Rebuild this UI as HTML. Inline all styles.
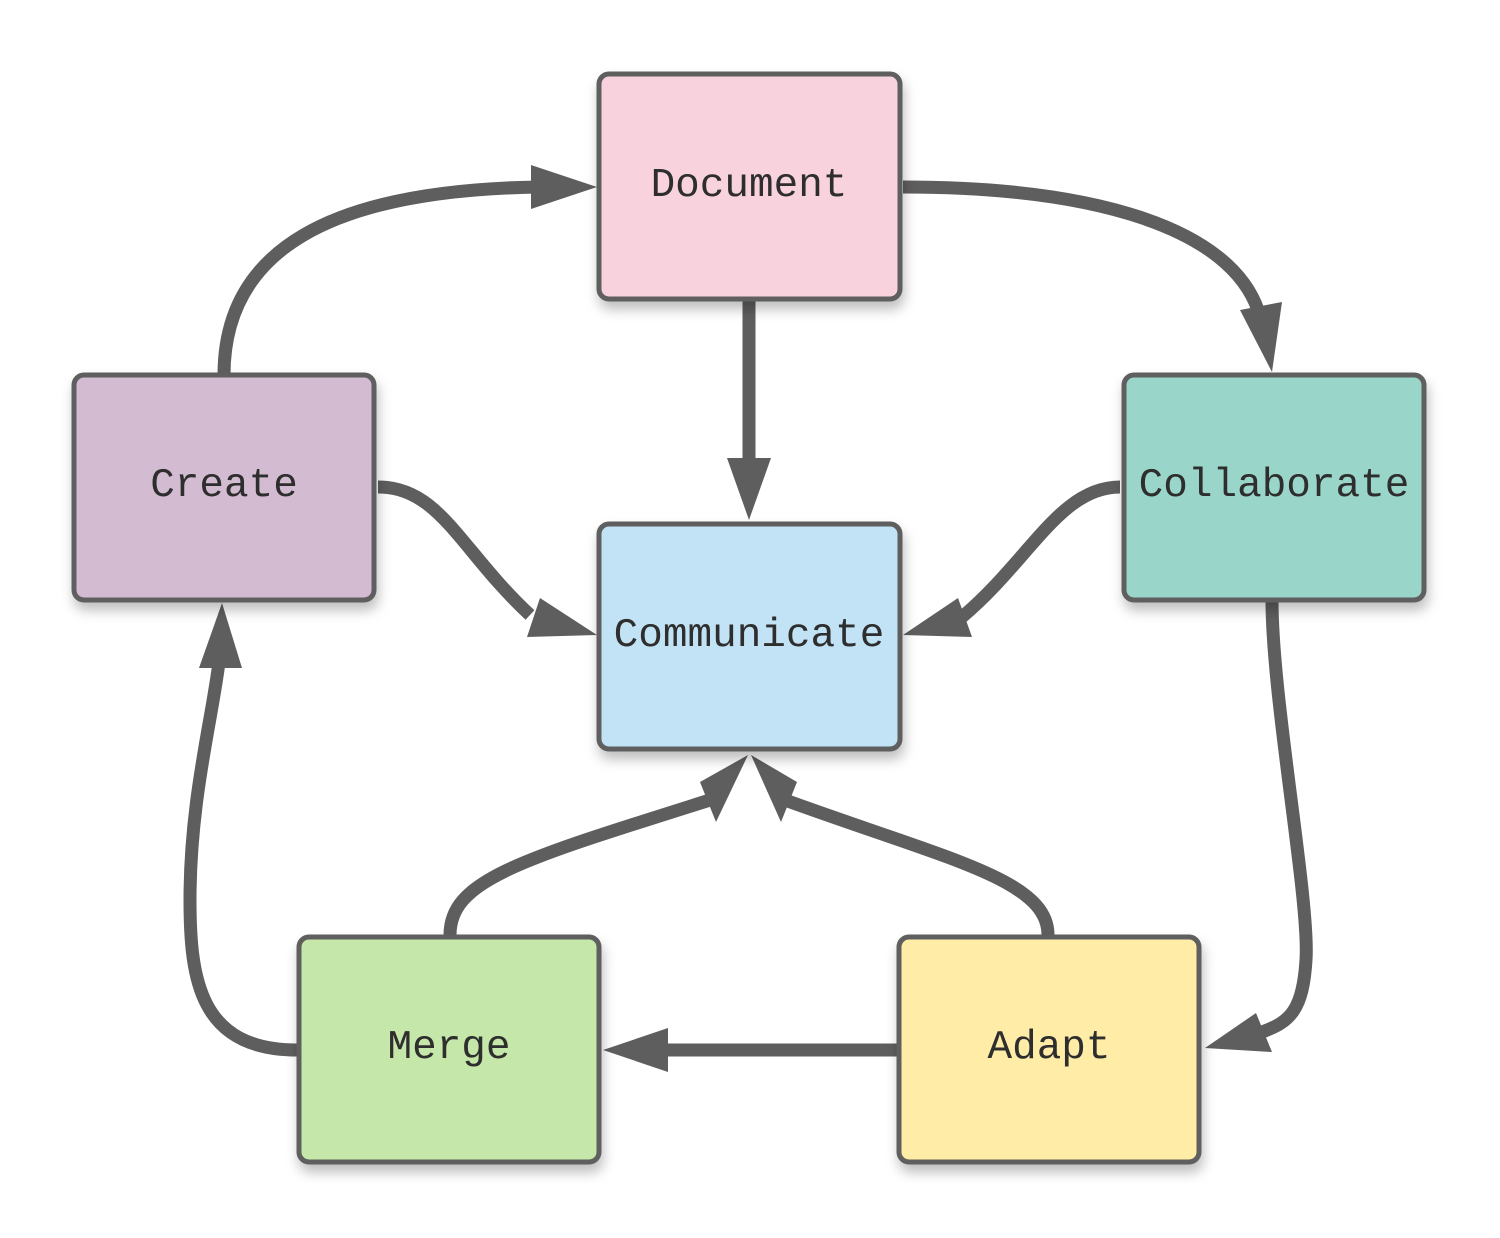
<!DOCTYPE html>
<html><head><style>
html,body{margin:0;padding:0;background:#fff;}
svg{display:block;}
text{font-family:"Liberation Mono",monospace;font-size:41px;fill:#2e2e2e;text-anchor:middle;dominant-baseline:central;}
</style></head><body>
<svg width="1500" height="1238" viewBox="0 0 1500 1238" xmlns="http://www.w3.org/2000/svg">
<defs>
<filter id="sh" x="-20%" y="-20%" width="140%" height="140%">
<feDropShadow dx="2" dy="8" stdDeviation="6" flood-color="#000" flood-opacity="0.25"/>
</filter>
</defs>
<g fill="none" stroke="#5e5e5e" stroke-width="13">
<path d="M224,375 C224,250 330,190 540,187"/>
<path d="M903,187 C1100,187 1230,230 1258,310"/>
<path d="M749,300 L749,462"/>
<path d="M378,487 C440,487 460,550 530,615"/>
<path d="M1120,487 C1060,487 1030,560 962,617"/>
<path d="M1272,600 C1272,700 1310,900 1306,960 C1303,1010 1290,1022 1262,1032"/>
<path d="M899,1050 L665,1050"/>
<path d="M297,1050 C200,1050 190,980 190,900 C190,800 212,720 219,662"/>
<path d="M450,935 C450,880 520,860 710,800"/>
<path d="M1048,935 C1048,880 950,860 785,800"/>
</g>
<g fill="#5e5e5e">
<polygon points="597,187 531,165 531,209"/>
<polygon points="1272,372 1240,310 1282,302"/>
<polygon points="749,520 727,458 771,458"/>
<polygon points="597,635 540,598 527,637"/>
<polygon points="903,635 958,598 972,637"/>
<polygon points="1205,1048 1256,1013 1272,1052"/>
<polygon points="603,1050 668,1028 668,1072"/>
<polygon points="222,603 199,668 242,668"/>
<polygon points="748,755 700,782 716,822"/>
<polygon points="751,755 781,822 797,782"/>
</g>
<g stroke="#5e5e5e" stroke-width="5" filter="url(#sh)">
<rect x="599" y="74" width="301" height="225" rx="10" fill="#f8d3de"/>
<rect x="74" y="375" width="300" height="225" rx="10" fill="#d3bcd2"/>
<rect x="1124" y="375" width="300" height="225" rx="10" fill="#9ad5ca"/>
<rect x="599" y="524" width="301" height="225" rx="10" fill="#c1e3f5"/>
<rect x="299" y="937" width="300" height="225" rx="10" fill="#c6e7aa"/>
<rect x="899" y="937" width="300" height="225" rx="10" fill="#feeca7"/>
</g>
<text x="749" y="186">Document</text>
<text x="224" y="486">Create</text>
<text x="1274" y="486">Collaborate</text>
<text x="749" y="636">Communicate</text>
<text x="449" y="1048">Merge</text>
<text x="1049" y="1048">Adapt</text>
</svg>
</body></html>
